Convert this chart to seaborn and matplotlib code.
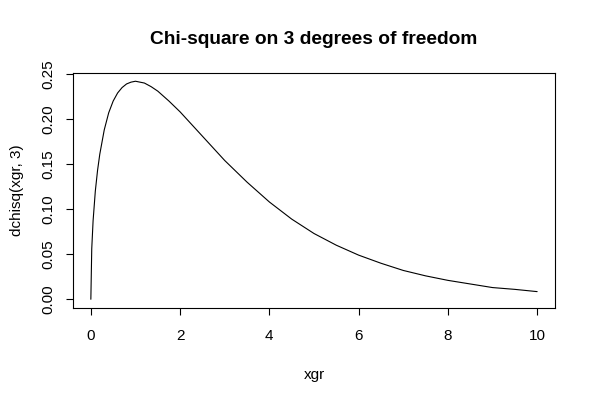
import numpy as np
import pandas as pd
import matplotlib
matplotlib.use("Agg")
import matplotlib.pyplot as plt
import seaborn as sns

# values
xgr = [0, 0.02, 0.05, 0.1, 0.15, 0.2, 0.3, 0.4, 0.5, 0.6, 0.7, 0.8, 0.9, 1.0, 1.1,
       1.2, 1.35, 1.5, 1.75, 2.0, 2.5, 3.0, 3.5, 4.0, 4.5, 5.0, 5.5, 6.0, 6.5,
       7.0, 7.5, 8.0, 8.5, 9.0, 9.5, 10.0]
dens = [0.0, 0.056, 0.087, 0.120, 0.143, 0.161, 0.188, 0.207, 0.220, 0.229, 0.235,
        0.239, 0.241, 0.242, 0.241, 0.240, 0.236, 0.231, 0.220, 0.208, 0.181,
        0.154, 0.130, 0.108, 0.089, 0.073, 0.060, 0.049, 0.040, 0.032, 0.026,
        0.021, 0.017, 0.013, 0.011, 0.0085]
xticks = [0, 2, 4, 6, 8, 10]
yticks = [0.00, 0.05, 0.10, 0.15, 0.20, 0.25]

df = pd.DataFrame({"xgr": xgr, "dens": dens})

sns.set_style("white")
plt.rcParams["font.family"] = ["Liberation Sans", "DejaVu Sans"]
plt.rcParams["text.color"] = "black"
plt.rcParams["axes.labelcolor"] = "black"
plt.rcParams["xtick.color"] = "black"
plt.rcParams["ytick.color"] = "black"

fig = plt.figure(figsize=(5.93, 4.0), dpi=100)
ax = fig.add_axes([73 / 593, 1 - 308 / 400, (555 - 73) / 593, (308 - 72.5) / 400])

sns.lineplot(data=df, x="xgr", y="dens", color="black", linewidth=0.8, ax=ax)

# R style 4% padding
ax.set_xlim(-0.4, 10.4)
ax.set_ylim(-0.00968, 0.2517)
ax.set_xticks(xticks)
ax.set_xticklabels([str(t) for t in xticks])
ax.set_yticks(yticks)
ax.set_yticklabels([f"{t:.2f}" for t in yticks], rotation=90, va="center")
ax.tick_params(direction="out", length=5, width=0.8, labelsize=11,
               left=True, bottom=True)
ax.tick_params(axis="x", pad=10)
ax.tick_params(axis="y", pad=8)
for s in ax.spines.values():
    s.set_color("black")
    s.set_linewidth(0.8)

ax.set_xlabel("xgr", fontsize=11, labelpad=18)
ax.set_ylabel("dchisq(xgr, 3)", fontsize=11, labelpad=12)
# title centred over the plot region, like R does
fig.suptitle("Chi-square on 3 degrees of freedom", fontsize=13.8, fontweight="bold",
             x=314 / 593, y=1 - 39 / 400, va="center")

fig.savefig("out.png", dpi=100)
